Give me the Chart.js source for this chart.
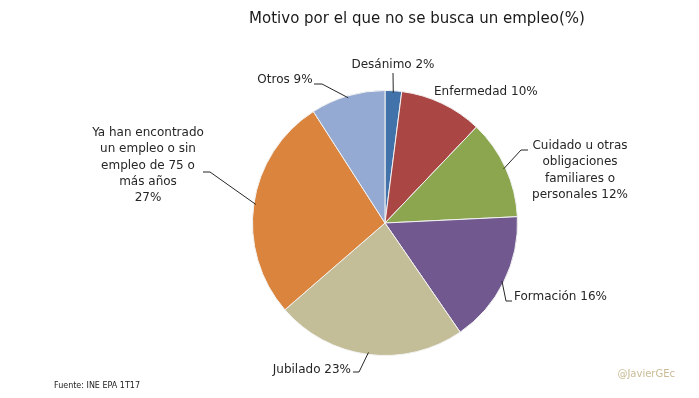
<!DOCTYPE html>
<html lang="es">
<head>
    <meta charset="UTF-8">
    <title>Motivo por el que no se busca un empleo</title>
    <script src="https://cdn.jsdelivr.net/npm/chart.js"></script>
    <style>
        html, body { margin: 0; padding: 0; background: #fff; }
        #wrap { width: 699px; height: 398px; position: relative; }
    </style>
</head>
<body>
    <div id="wrap"><canvas id="pieChart" width="699" height="398"></canvas></div>

    <script>
        const categories = ['Desánimo', 'Enfermedad', 'Cuidado u otras obligaciones familiares o personales', 'Formación', 'Jubilado', 'Ya han encontrado un empleo o sin empleo de 75 o más años', 'Otros'];
        const values = [2, 10, 12, 16, 23, 27, 9];
        const colors = ['#4272AA', '#AA4644', '#8BA64F', '#71588F', '#C4BE98', '#DA843D', '#94AAD2'];
        // label text split into lines, last part carries the value
        const labelLines = [
            ['Desánimo 2%'],
            ['Enfermedad 10%'],
            ['Cuidado u otras', 'obligaciones', 'familiares o', 'personales 12%'],
            ['Formación 16%'],
            ['Jubilado 23%'],
            ['Ya han encontrado', 'un empleo o sin', 'empleo de 75 o', 'más años', '27%'],
            ['Otros 9%']
        ];

        const FONT = '"DejaVu Sans", sans-serif';

        // where each label sits and how its leader line bends
        const labelLayout = [
            { x: 393, y: 65, align: 'center', path: [[393, 73]] },
            { x: 434, y: 92, align: 'left', path: null },
            { x: 580, y: 146, align: 'center', path: [[521, 150], [528, 150]] },
            { x: 514, y: 297, align: 'left', path: [[506, 301], [512, 301]] },
            { x: 351, y: 370, align: 'right', path: [[359, 372], [353, 372]] },
            { x: 148, y: 133, align: 'center', path: [[210, 172], [203, 172]] },
            { x: 285, y: 80, align: 'center', path: [[322, 84], [314, 84]] }
        ];

        const labelPlugin = {
            id: 'pieLabels',
            afterDraw(chart) {
                const ctx = chart.ctx;
                const arcs = chart.getDatasetMeta(0).data;
                ctx.save();
                ctx.font = '12px ' + FONT;
                ctx.fillStyle = '#262626';
                ctx.strokeStyle = '#262626';
                ctx.lineWidth = 1;
                ctx.textBaseline = 'middle';
                arcs.forEach((arc, i) => {
                    const lay = labelLayout[i];
                    const mid = (arc.startAngle + arc.endAngle) / 2;
                    if (lay.path) {
                        const sx = arc.x + (arc.outerRadius - 2) * Math.cos(mid);
                        const sy = arc.y + (arc.outerRadius - 2) * Math.sin(mid);
                        ctx.beginPath();
                        ctx.moveTo(sx, sy);
                        lay.path.forEach(p => ctx.lineTo(p[0], p[1]));
                        ctx.stroke();
                    }
                    ctx.textAlign = lay.align;
                    labelLines[i].forEach((line, k) => {
                        ctx.fillText(line, lay.x, lay.y + k * 16.2);
                    });
                });

                // title
                ctx.textAlign = 'center';
                ctx.font = '15px ' + FONT;
                ctx.fillStyle = '#1a1a1a';
                ctx.fillText('Motivo por el que no se busca un empleo(%)', 417, 19);

                // source and signature
                ctx.textAlign = 'left';
                ctx.font = '8px ' + FONT;
                ctx.fillStyle = '#222';
                ctx.fillText('Fuente: INE EPA 1T17', 54, 386);
                ctx.textAlign = 'right';
                ctx.font = '10px ' + FONT;
                ctx.fillStyle = '#C9BB95';
                ctx.fillText('@JavierGEc', 675, 374);
                ctx.restore();
            }
        };

        new Chart(document.getElementById('pieChart'), {
            type: 'pie',
            data: {
                labels: categories,
                datasets: [{
                    data: values,
                    backgroundColor: colors,
                    borderColor: '#F2F2F2',
                    borderWidth: 1
                }]
            },
            options: {
                responsive: false,
                animation: false,
                layout: { padding: { top: 90, bottom: 42, left: 252, right: 181 } },
                plugins: {
                    legend: { display: false },
                    tooltip: { enabled: false }
                }
            },
            plugins: [labelPlugin]
        });
    </script>
</body>
</html>
